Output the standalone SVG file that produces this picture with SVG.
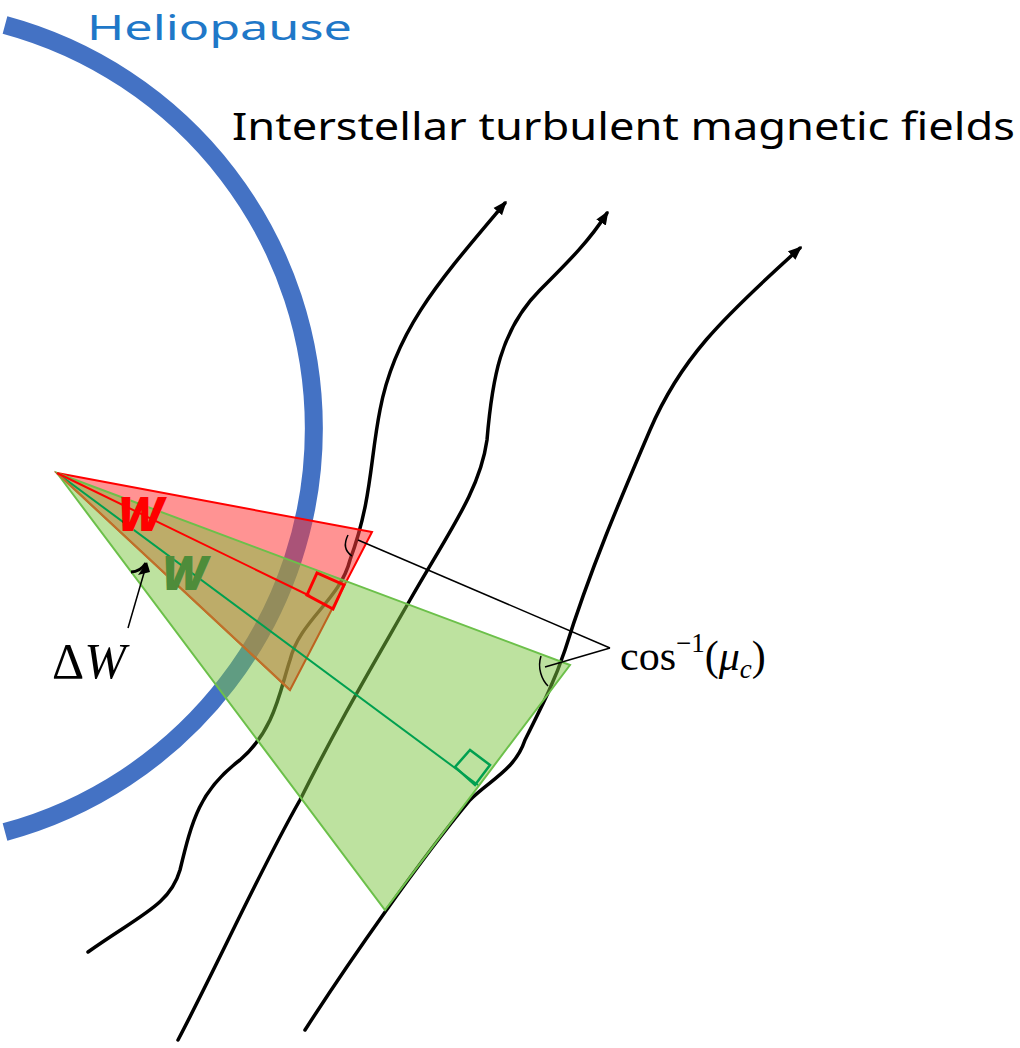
<svg xmlns="http://www.w3.org/2000/svg" width="1020" height="1048" viewBox="0 0 1020 1048">
<style>
.fl{fill:none;stroke:#000;stroke-width:3.5;stroke-linecap:round}
.thin{fill:none;stroke:#000;stroke-width:1.5}
.lbl{font-family:"Noto Sans","Liberation Sans",sans-serif}
.math{font-family:"Liberation Serif","DejaVu Serif",serif}
</style>
<defs>
<marker id="ar" viewBox="0 0 10 10" refX="8" refY="5" markerWidth="4" markerHeight="4" orient="auto"><path d="M0,1 L10,5 L0,9 Z" fill="#000"/></marker>
</defs>
<rect width="1020" height="1048" fill="#fff"/>
<g id="heliopause"><path d="M5,25 A418,418 0 0 1 5,832" fill="none" stroke="#4472C4" stroke-width="18"/></g>
<g id="connectors">
<path class="fl" marker-end="url(#ar)" d="M88,952 C140,915 170,905 180,870 C192,820 200,790 240,760 C275,730 280,690 290,660 C300,620 340,600 350,560 C372,500 370,460 380,410 C395,330 440,280 505,203"/>
<path class="fl" marker-end="url(#ar)" d="M178,1040 C220,960 260,870 300,800 C340,720 370,670 410,600 C450,530 480,490 487,440 C492,380 500,330 540,290 C570,260 590,240 607,213"/>
<path class="fl" marker-end="url(#ar)" d="M305,1030 C350,960 420,860 470,800 C490,780 515,770 525,740 C545,700 555,680 565,650 C590,570 620,500 650,430 C680,360 720,320 800,248"/>
</g>
<g id="red-cone">
<polygon points="57,473 372,532 290,690" fill="#FF3B3B" fill-opacity="0.55" stroke="#FF0000" stroke-width="2"/>
</g>
<g id="green-cone">
<polygon points="57,473 570,665 385,910" fill="#7CC540" fill-opacity="0.5" stroke="#6CC04A" stroke-width="2"/>
<line x1="57" y1="473" x2="478" y2="785" stroke="#00A050" stroke-width="2"/>
<polygon points="455,767 470,750 490,765 475,785" fill="none" stroke="#00A050" stroke-width="2.5"/>
<line x1="290" y1="690" x2="57" y2="473" stroke="#C0702A" stroke-width="2"/>
</g>
<g id="red-marks">
<line x1="57" y1="473" x2="310" y2="596" stroke="#FF0000" stroke-width="2"/>
<polygon points="307,595 317,573 344,585 333,609" fill="none" stroke="#FF0000" stroke-width="3"/>
</g>
<g id="angles">
<path class="thin" d="M348,535 C343,545 346,552 352,556"/>
<path class="thin" d="M541,656 C537,668 542,680 548,686"/>
<path d="M131,572 C137,572 142,569 146,563" fill="none" stroke="#000" stroke-width="3"/>
<line class="thin" x1="610" y1="648" x2="358" y2="540"/>
<line class="thin" x1="610" y1="648" x2="545" y2="667"/>
<line class="thin" x1="128" y1="628" x2="146" y2="566"/>
<path d="M138,575 L147,562 L150,572 Z" fill="#000"/>
</g>
<g id="labels">
<text x="87" y="40" class="lbl" font-size="35" fill="#1F78C8" textLength="265" lengthAdjust="spacingAndGlyphs">Heliopause</text>
<text x="232" y="140" class="lbl" font-size="38" fill="#000" textLength="783" lengthAdjust="spacingAndGlyphs">Interstellar turbulent magnetic fields</text>
<text x="118" y="531" class="lbl" font-size="48" font-weight="900" font-style="italic" fill="#FF0000">W</text>
<text x="162" y="590" class="lbl" font-size="48" font-weight="900" font-style="italic" fill="#4E8C3A">W</text>
<text x="52" y="678" class="math" font-size="50" fill="#000">Δ<tspan font-style="italic">W</tspan></text>
<text x="620" y="670" class="math" font-size="42" fill="#000">cos<tspan font-size="27" dy="-18">−1</tspan><tspan dy="18">(</tspan><tspan font-style="italic">μ</tspan><tspan font-size="27" font-style="italic" dy="8">c</tspan><tspan dy="-8">)</tspan></text>
</g>
</svg>
